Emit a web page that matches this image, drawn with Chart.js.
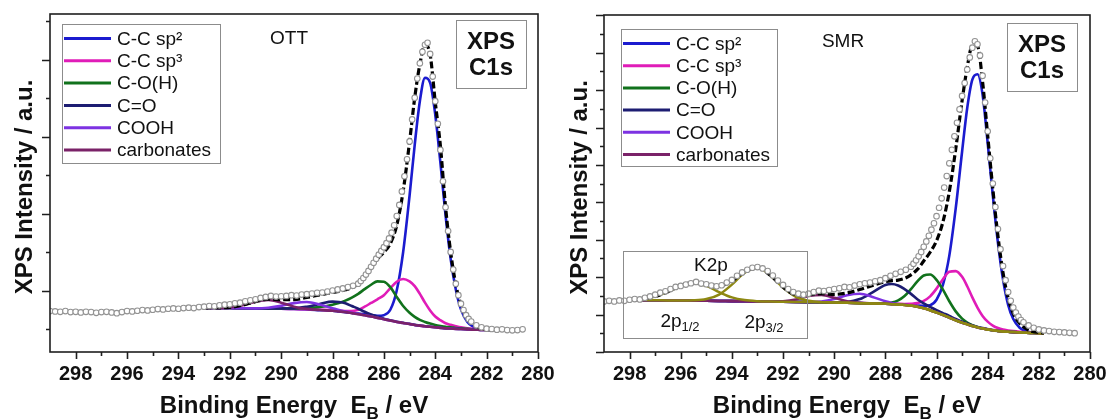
<!DOCTYPE html>
<html>
<head>
<meta charset="utf-8">
<title>XPS C1s</title>
<script src="https://cdn.jsdelivr.net/npm/chart.js@4.4.1/dist/chart.umd.min.js"></script>
<style>
  html, body { margin: 0; padding: 0; background: #fff; }
  #wrap { position: relative; width: 1108px; height: 420px; overflow: hidden; }
  canvas { position: absolute; top: 0; }
</style>
</head>
<body>
<div id="wrap">
  <canvas id="ott" width="574" height="420" style="left:0"></canvas>
  <canvas id="smr" width="554" height="420" style="left:554px"></canvas>
</div>
<script>
const FONT = "'Liberation Sans', Arial, sans-serif";

// binding energies (eV) of the measured points, shared by both samples
const energyExp = [
  299.0, 298.8, 298.6, 298.4, 298.2, 298.0, 297.8, 297.6, 297.4, 297.2,
  297.0, 296.8, 296.6, 296.4, 296.2, 296.0, 295.8, 295.6, 295.4, 295.2,
  295.0, 294.8, 294.6, 294.4, 294.2, 294.0, 293.8, 293.6, 293.4, 293.2,
  293.0, 292.8, 292.6, 292.4, 292.2, 292.0, 291.8, 291.6, 291.4, 291.2,
  291.0, 290.8, 290.6, 290.4, 290.2, 290.0, 289.8, 289.6, 289.4, 289.2,
  289.0, 288.8, 288.6, 288.4, 288.2, 288.0, 287.8, 287.6, 287.4, 287.2,
  287.0,
  286.9, 286.8, 286.7, 286.6, 286.5, 286.4, 286.3, 286.2, 286.1, 286.0,
  285.9, 285.8, 285.7, 285.6, 285.5, 285.4, 285.3, 285.2, 285.1, 285.0,
  284.9, 284.8, 284.7, 284.6, 284.5, 284.4, 284.3, 284.2, 284.1, 284.0,
  283.9, 283.8, 283.7, 283.6, 283.5, 283.4, 283.3, 283.2, 283.1, 283.0,
  282.9, 282.8, 282.7, 282.6,
  282.4, 282.2, 282.0, 281.8, 281.6, 281.4, 281.2, 281.0, 280.8, 280.6
];

// OTT measured intensity (a.u.)
const ottExp = [
  12.1, 12.0, 11.9, 12.1, 11.8, 11.9, 11.7, 11.9, 11.8, 11.6,
  11.8, 11.9, 11.7, 11.5, 11.8, 12.1, 12.0, 12.2, 12.4, 12.3,
  12.5, 12.7, 12.6, 12.8, 12.9, 12.8, 13.0, 13.1, 13.0, 13.3,
  13.4, 13.6, 13.5, 13.8, 14.0, 14.1, 14.4, 14.6, 15.0, 15.3,
  15.6, 16.0, 16.3, 16.6, 16.4, 16.5, 16.6, 16.8, 16.7, 17.0,
  17.1, 17.3, 17.5, 17.6, 17.9, 18.2, 18.5, 18.8, 19.2, 19.6,
  20.2,
  21.0, 21.9, 22.9, 24.0, 25.2, 26.4, 27.6, 28.8, 29.9, 31.0,
  32.2, 33.6, 35.3, 37.5, 40.2, 43.5, 47.5, 52.0, 57.0, 62.3,
  68.8, 75.2, 80.9, 85.4, 88.8, 90.9, 91.5, 88.2, 81.5, 74.2,
  67.5, 59.8, 50.5, 42.8, 35.8, 29.6, 24.4, 20.2, 16.8, 14.3,
  12.4, 10.9, 9.8, 9.0,
  7.9, 7.3, 6.9, 6.8, 6.6, 6.7, 6.5, 6.4, 6.5, 6.7
];

// SMR measured intensity (a.u.)
const smrExp = [
  15.0, 15.2, 15.0, 15.3, 15.2, 15.5, 15.7, 15.6, 16.1, 16.5,
  17.0, 17.6, 18.0, 18.7, 19.3, 19.6, 20.0, 20.4, 20.8, 20.3,
  20.1, 19.7, 19.5, 19.8, 20.6, 21.4, 22.6, 23.6, 24.4, 25.0,
  25.2, 24.8, 24.0, 22.7, 21.2, 19.9, 18.7, 17.8, 17.3, 17.0,
  17.3, 17.8, 18.2, 18.1, 18.4, 18.7, 18.9, 19.3, 19.2, 19.7,
  20.1, 20.4, 20.6, 21.0, 21.3, 21.9, 22.6, 23.2, 23.8, 24.4,
  25.3,
  26.2, 27.2, 28.4, 29.7, 31.2, 32.8, 34.5, 36.3, 38.2, 40.3,
  42.8, 45.6, 48.8, 52.2, 56.0, 60.0, 64.0, 68.0, 72.0, 76.0,
  79.8, 83.8, 87.4, 90.3, 92.2, 91.3, 88.0, 82.0, 74.0, 65.5,
  57.5, 50.0, 43.0, 36.5, 30.5, 25.5, 21.3, 17.8, 15.2, 13.2,
  11.7, 10.5, 9.5, 8.8,
  7.9, 7.2, 6.7, 6.4, 6.2, 6.0, 5.9, 5.8, 5.7, 5.6
];

// energies of the fitted curves
const ottFitEnergy = [
  293, 292.5, 292, 291.5, 291, 290.5, 290, 289.5, 289, 288.5,
  288, 287.75, 287.5, 287.25, 287, 286.75, 286.5, 286.25, 286, 285.75,
  285.5, 285.25, 285, 284.8, 284.6, 284.4, 284.2, 284, 283.8, 283.6,
  283.4, 283.2, 283, 282.75, 282.5, 282.25, 282, 281.8
];
const smrFitEnergy = [
  297.8, 297.5, 297, 296.5, 296, 295.5, 295, 294.5, 294, 293.5,
  293, 292.5, 292, 291.5, 291, 290.5, 290, 289.5, 289, 288.5,
  288, 287.75, 287.5, 287.25, 287, 286.75, 286.5, 286.25, 286, 285.75,
  285.5, 285.25, 285, 284.8, 284.6, 284.4, 284.2, 284, 283.8, 283.6,
  283.4, 283.2, 283, 282.75, 282.5, 282.25, 282, 281.8
];

// OTT fit components (peak on top of background)
const ottSp2 = [
  13.0, 13.0, 13.0, 12.95, 12.9, 12.85, 12.8, 12.7, 12.6, 12.4,
  12.2, 12.0, 11.8, 11.55, 11.4, 11.15, 10.9, 10.7, 10.9, 12.5,
  18.2, 29.6, 46.3, 61.3, 74.2, 81.1, 79.6, 70.2, 56.0, 40.5,
  27.5, 18.5, 12.6, 8.9, 7.4, 6.75, 6.6, 6.55
];
const ottSp3 = [
  13.0, 13.0, 13.0, 12.95, 12.9, 12.85, 12.8, 12.7, 12.65, 12.5,
  12.35, 12.25, 12.15, 12.1, 12.5, 13.4, 14.5, 15.6, 16.8, 18.9,
  20.8, 21.6, 20.9, 19.5, 17.2, 14.6, 12.3, 10.5, 9.4, 8.5,
  8.05, 7.65, 7.3, 7.0, 6.8, 6.65, 6.55, 6.5
];
const ottCOH = [
  13.0, 13.0, 13.0, 12.95, 12.9, 12.85, 12.85, 12.9, 13.0, 13.3,
  14.0, 14.5, 15.2, 16.1, 17.2, 18.6, 19.9, 20.9, 20.8, 19.2,
  16.3, 13.6, 11.6, 10.4, 9.5, 8.9, 8.4, 8.0, 7.7, 7.45,
  7.3, 7.1, 7.0, 6.85, 6.7, 6.6, 6.55, 6.5
];
const ottCO = [
  13.0, 13.0, 13.0, 12.95, 12.9, 12.85, 12.85, 12.9, 13.4, 14.2,
  14.9, 14.8, 14.4, 13.6, 12.8, 11.9, 11.1, 10.4, 9.86, 9.37,
  8.95, 8.63, 8.32, 8.02, 7.82, 7.62, 7.47, 7.32, 7.17, 7.02,
  6.96, 6.86, 6.81, 6.71, 6.61, 6.56, 6.5, 6.5
];
const ottCOOH = [
  13.0, 13.0, 13.0, 12.95, 12.92, 13.1, 13.64, 14.46, 14.8, 14.05,
  12.95, 12.4, 12.0, 11.6, 11.23, 10.85, 10.5, 10.1, 9.7, 9.3,
  8.9, 8.6, 8.3, 8.0, 7.8, 7.6, 7.45, 7.3, 7.15, 7.0,
  6.95, 6.85, 6.8, 6.7, 6.6, 6.55, 6.5, 6.5
];
const ottCarb = [
  13.0, 13.03, 13.2, 13.81, 14.89, 15.4, 14.6, 13.41, 12.75, 12.42,
  12.2, 12.0, 11.8, 11.5, 11.2, 10.85, 10.5, 10.1, 9.7, 9.3,
  8.9, 8.6, 8.3, 8.0, 7.8, 7.6, 7.45, 7.3, 7.15, 7.0,
  6.95, 6.85, 6.8, 6.7, 6.6, 6.55, 6.5, 6.5
];
const ottEnvelope = [
  13.0, 13.05, 13.2, 13.85, 14.9, 15.65, 15.5, 15.5, 16.15, 16.9,
  17.6, 17.95, 18.4, 18.95, 20.3, 22.5, 24.9, 27.5, 29.5, 32.1,
  37.5, 47.6, 62.2, 75.2, 85.1, 90.8, 88.0, 73.9, 61.0, 43.0,
  29.5, 20.0, 14.0, 10.0, 8.0, 7.0, 6.7, 6.6
];

// SMR fit components
const smrSp2 = [
  15.4, 15.4, 15.35, 15.3, 15.3, 15.25, 15.2, 15.15, 15.1, 15.05,
  15.0, 14.95, 14.9, 14.85, 14.8, 14.75, 14.7, 14.6, 14.5, 14.4,
  14.3, 14.2, 14.15, 14.1, 14.1, 13.75, 13.7, 13.9, 15.5, 19.9,
  28.6, 42.6, 59.5, 72.4, 80.8, 82.4, 76.4, 62.0, 46.5, 32.5,
  21.5, 14.0, 9.8, 7.2, 6.2, 5.75, 5.65, 5.6
];
const smrSp3 = [
  15.4, 15.4, 15.35, 15.3, 15.3, 15.25, 15.2, 15.15, 15.1, 15.05,
  15.0, 14.95, 14.9, 14.85, 14.8, 14.75, 14.7, 14.6, 14.5, 14.45,
  14.4, 14.35, 14.3, 14.25, 14.3, 14.5, 15.15, 16.5, 18.8, 21.6,
  23.8, 24.0, 22.3, 19.5, 16.2, 13.2, 10.7, 9.0, 7.85, 7.1,
  6.65, 6.4, 6.2, 6.0, 5.85, 5.75, 5.65, 5.6
];
const smrCOH = [
  15.4, 15.4, 15.35, 15.3, 15.3, 15.25, 15.2, 15.15, 15.1, 15.05,
  15.0, 14.95, 14.9, 14.85, 14.8, 14.75, 14.7, 14.6, 14.5, 14.4,
  14.45, 14.65, 15.3, 16.6, 18.65, 20.95, 22.7, 23.0, 21.4, 18.5,
  15.05, 12.05, 9.9, 8.75, 7.95, 7.4, 7.0, 6.72, 6.45, 6.25,
  6.1, 6.0, 5.9, 5.8, 5.7, 5.65, 5.6, 5.6
];
const smrCO = [
  15.4, 15.4, 15.35, 15.3, 15.3, 15.25, 15.2, 15.15, 15.1, 15.05,
  15.0, 14.95, 14.9, 14.85, 14.8, 14.75, 14.73, 14.85, 15.7, 17.7,
  19.9, 20.2, 19.75, 18.65, 17.25, 15.65, 14.4, 13.4, 12.4, 11.55,
  10.7, 9.8, 9.0, 8.45, 7.9, 7.45, 7.1, 6.8, 6.5, 6.28,
  6.12, 6.0, 5.9, 5.8, 5.7, 5.65, 5.6, 5.6
];
const smrCOOH = [
  15.4, 15.4, 15.35, 15.3, 15.3, 15.25, 15.2, 15.15, 15.1, 15.05,
  15.0, 14.95, 14.9, 14.86, 14.83, 15.0, 15.7, 16.85, 17.3, 16.35,
  15.05, 14.57, 14.26, 14.0, 13.8, 13.45, 13.0, 12.4, 11.7, 11.0,
  10.2, 9.4, 8.7, 8.2, 7.7, 7.3, 6.95, 6.7, 6.45, 6.25,
  6.1, 6.0, 5.9, 5.8, 5.7, 5.65, 5.6, 5.6
];
const smrCarb = [
  15.4, 15.4, 15.35, 15.3, 15.3, 15.25, 15.2, 15.15, 15.1, 15.05,
  15.0, 14.97, 15.05, 15.55, 16.6, 16.95, 16.1, 15.05, 14.57, 14.4,
  14.3, 14.2, 14.1, 13.95, 13.8, 13.45, 13.0, 12.4, 11.7, 11.0,
  10.2, 9.4, 8.7, 8.2, 7.7, 7.3, 6.95, 6.7, 6.45, 6.25,
  6.1, 6.0, 5.9, 5.8, 5.7, 5.65, 5.6, 5.6
];
const smrK2p12 = [
  15.55, 15.75, 16.45, 17.9, 19.7, 20.5, 19.6, 17.75, 16.2, 15.4,
  15.07, 14.95, 14.9, 14.85, 14.8, 14.75, 14.7, 14.6, 14.5, 14.4,
  14.3, 14.2, 14.1, 13.95, 13.8, 13.45, 13.0, 12.4, 11.7, 11.0,
  10.2, 9.4, 8.7, 8.2, 7.7, 7.3, 6.95, 6.7, 6.45, 6.25,
  6.1, 6.0, 5.9, 5.8, 5.7, 5.65, 5.6, 5.6
];
const smrK2p32 = [
  15.4, 15.4, 15.35, 15.3, 15.3, 15.35, 15.7, 17.05, 20.0, 23.5,
  24.9, 22.75, 19.1, 16.35, 15.2, 14.8, 14.7, 14.6, 14.5, 14.4,
  14.3, 14.2, 14.1, 13.95, 13.8, 13.45, 13.0, 12.4, 11.7, 11.0,
  10.2, 9.4, 8.7, 8.2, 7.7, 7.3, 6.95, 6.7, 6.45, 6.25,
  6.1, 6.0, 5.9, 5.8, 5.7, 5.65, 5.6, 5.6
];
const smrEnvelope = [
  15.55, 15.75, 16.45, 17.9, 19.7, 20.6, 20.1, 19.65, 21.1, 23.8,
  25.0, 22.75, 19.25, 17.05, 17.0, 17.3, 17.1, 17.5, 18.55, 19.75,
  20.9, 21.2, 21.35, 21.85, 22.9, 24.5, 27.0, 29.6, 33.0, 38.6,
  47.6, 60.2, 74.6, 84.5, 91.0, 90.8, 80.2, 64.3, 48.5, 34.5,
  23.5, 16.0, 11.5, 8.5, 6.9, 6.1, 5.8, 5.65
];

const componentNames = ['C-C sp\u00b2', 'C-C sp\u00b3', 'C-O(H)', 'C=O', 'COOH', 'carbonates'];
const componentColors = ['#1b1bcf', '#e01cb8', '#11721c', '#1d1d72', '#7d32e2', '#7a2268'];
const k2pColor = '#8e8812';
const energyTicks = [298, 296, 294, 292, 290, 288, 286, 284, 282, 280];

const zip = (xs, ys) => xs.map((x, i) => ({ x: x, y: ys[i] }));

function drawRuns(ctx, runs, x, y) {
  // runs of [text, font, dy], centred on x
  let w = 0;
  runs.forEach(r => { ctx.font = r[1]; w += ctx.measureText(r[0]).width; });
  let cx = x - w / 2;
  ctx.textAlign = 'left';
  runs.forEach(r => {
    ctx.font = r[1];
    ctx.fillText(r[0], cx, y + (r[2] || 0));
    cx += ctx.measureText(r[0]).width;
  });
}

const panelDecor = {
  id: 'panelDecor',
  afterDraw(chart, args, o) {
    const { ctx, chartArea: a } = chart;
    const xs = chart.scales.x, ys = chart.scales.y;
    ctx.save();

    // frame and tick marks
    ctx.strokeStyle = '#1e1e1e';
    ctx.lineWidth = 1.6;
    ctx.strokeRect(a.left, a.top, a.right - a.left, a.bottom - a.top);
    ctx.beginPath();
    for (let e = 280; e <= 298; e++) {
      const px = Math.round(xs.getPixelForValue(e)) + 0.5;
      ctx.moveTo(px, a.bottom);
      ctx.lineTo(px, a.bottom + (e % 2 === 0 ? 7 : 4));
    }
    for (let k = 0; o.yStart + k * o.yStep <= 100; k++) {
      const py = Math.round(ys.getPixelForValue(o.yStart + k * o.yStep)) + 0.5;
      ctx.moveTo(a.left, py);
      ctx.lineTo(a.left - (k % 2 === o.majorParity ? 8 : 4), py);
    }
    ctx.stroke();

    // axis titles
    ctx.fillStyle = '#111';
    ctx.textBaseline = 'middle';
    ctx.textAlign = 'center';
    ctx.font = `bold 24px ${FONT}`;
    ctx.save();
    ctx.translate(o.yTitleX, (a.top + a.bottom) / 2 + 4);
    ctx.rotate(-Math.PI / 2);
    ctx.fillText('XPS Intensity / a.u.', 0, 0);
    ctx.restore();
    ctx.textBaseline = 'alphabetic';
    drawRuns(ctx, [
      ['Binding Energy  E', `bold 24px ${FONT}`],
      ['B', `bold 17px ${FONT}`, 6],
      [' / eV', `bold 24px ${FONT}`]
    ], (a.left + a.right) / 2, 413);

    // legend
    const L = o.legend;
    ctx.fillStyle = '#fff';
    ctx.fillRect(L.x, L.y, L.w, L.h);
    ctx.strokeStyle = '#8c8c8c';
    ctx.lineWidth = 1;
    ctx.strokeRect(L.x + 0.5, L.y + 0.5, L.w, L.h);
    ctx.font = `19px ${FONT}`;
    ctx.textAlign = 'left';
    ctx.textBaseline = 'middle';
    componentNames.forEach((name, i) => {
      const yy = L.row0 + i * L.dy;
      ctx.strokeStyle = componentColors[i];
      ctx.lineWidth = 3;
      ctx.beginPath();
      ctx.moveTo(L.x + 2, yy);
      ctx.lineTo(L.x + 49, yy);
      ctx.stroke();
      ctx.fillStyle = '#111';
      ctx.fillText(name, L.x + 55, yy + 1);
    });

    // sample name
    ctx.textAlign = 'center';
    ctx.fillText(o.sample, o.sampleX, o.sampleY);

    // XPS C1s box
    const B = o.coreBox;
    ctx.fillStyle = '#fff';
    ctx.fillRect(B.x, B.y, B.w, B.h);
    ctx.strokeStyle = '#8c8c8c';
    ctx.lineWidth = 1;
    ctx.strokeRect(B.x + 0.5, B.y + 0.5, B.w, B.h);
    ctx.fillStyle = '#111';
    ctx.font = `bold 24px ${FONT}`;
    ctx.fillText('XPS', B.x + B.w / 2, B.y + 22);
    ctx.fillText('C1s', B.x + B.w / 2, B.y + 48);

    // K2p doublet marker
    if (o.k2p) {
      const K = o.k2p;
      ctx.strokeStyle = '#8c8c8c';
      ctx.strokeRect(K.x + 0.5, K.y + 0.5, K.w, K.h);
      ctx.fillStyle = '#111';
      ctx.font = `19px ${FONT}`;
      ctx.textAlign = 'center';
      ctx.fillText('K2p', K.x + 88, K.y + 15);
      ctx.textBaseline = 'alphabetic';
      drawRuns(ctx, [['2p', `19px ${FONT}`], ['1/2', `13px ${FONT}`, 4]], K.x + 57, K.y + 76);
      drawRuns(ctx, [['2p', `19px ${FONT}`], ['3/2', `13px ${FONT}`, 4]], K.x + 141, K.y + 77);
    }
    ctx.restore();
  }
};

function lineSet(label, xs, ys, color, width, order, dash) {
  return {
    label: label,
    data: zip(xs, ys),
    showLine: true,
    borderColor: color,
    borderWidth: width,
    borderDash: dash || [],
    pointRadius: 0,
    cubicInterpolationMode: 'monotone',
    order: order
  };
}

function makePanel(id, exp, fitE, parts, envelope, extra, deco) {
  const datasets = [{
    label: 'measured',
    data: zip(energyExp, exp),
    showLine: false,
    pointRadius: 2.8,
    pointBackgroundColor: '#fff',
    pointBorderColor: '#939393',
    pointBorderWidth: 1.1,
    order: 0
  }, lineSet('fit', fitE, envelope, '#000', 3.2, 1, [7, 3])];
  extra.forEach((ys, i) => datasets.push(lineSet('K2p', fitE, ys, k2pColor, 2.5, 2 + i)));
  parts.forEach((ys, i) => datasets.push(lineSet(componentNames[i], fitE, ys, componentColors[i], 2.6, 9 - i)));

  new Chart(document.getElementById(id), {
    type: 'scatter',
    data: { datasets: datasets },
    options: {
      responsive: false,
      animation: false,
      events: [],
      layout: { padding: { top: deco.top, right: deco.right, left: 0, bottom: 0 } },
      plugins: { legend: { display: false }, tooltip: { enabled: false }, panelDecor: deco },
      scales: {
        x: {
          type: 'linear', reverse: true, min: 280, max: 299,
          grid: { display: false, drawTicks: false },
          border: { display: false },
          ticks: { color: '#111', font: { family: FONT, size: 20, weight: 'bold' }, padding: 10, maxRotation: 0, autoSkip: false },
          afterBuildTicks: s => { s.ticks = energyTicks.map(v => ({ value: v })); },
          afterFit: s => { s.height = 420 - deco.bottom; s.paddingLeft = 0; s.paddingRight = 0; }
        },
        y: {
          min: 0, max: 100,
          ticks: { display: false },
          grid: { display: false, drawTicks: false },
          border: { display: false },
          afterFit: s => { s.width = deco.left; s.paddingTop = 0; s.paddingBottom = 0; }
        }
      }
    },
    plugins: [panelDecor]
  });
}

makePanel('ott', ottExp, ottFitEnergy,
  [ottSp2, ottSp3, ottCOH, ottCO, ottCOOH, ottCarb], ottEnvelope, [], {
    top: 14, bottom: 352, left: 50, right: 36,
    yStart: 6.7, yStep: 11.4, majorParity: 1, yTitleX: 25,
    legend: { x: 62, y: 24, w: 158, h: 139, row0: 38.5, dy: 22.3 },
    sample: 'OTT', sampleX: 289, sampleY: 39,
    coreBox: { x: 456, y: 20, w: 70, h: 68 }
  });

makePanel('smr', smrExp, smrFitEnergy,
  [smrSp2, smrSp3, smrCOH, smrCO, smrCOOH, smrCarb], smrEnvelope, [smrK2p12, smrK2p32], {
    top: 15, bottom: 352, left: 50, right: 18,
    yStart: 0, yStep: 5.55, majorParity: 0, yTitleX: 26,
    legend: { x: 67, y: 29, w: 156, h: 137, row0: 43.5, dy: 22.2 },
    sample: 'SMR', sampleX: 289, sampleY: 42,
    coreBox: { x: 453, y: 23, w: 70, h: 68 },
    k2p: { x: 69, y: 251, w: 184, h: 87 }
  });
</script>
</body>
</html>
